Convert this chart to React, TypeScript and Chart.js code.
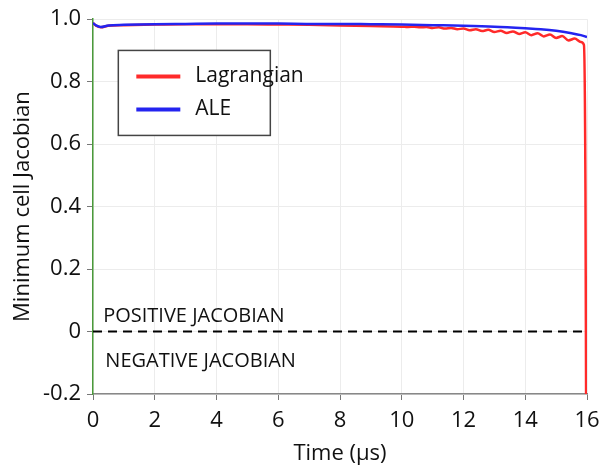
import React, { useEffect, useRef } from "react";
import { Chart, registerables } from "chart.js";

Chart.register(...registerables);

const aleTime = [0, 0.1, 0.25, 0.5, 1, 2, 3, 4, 5, 6, 7, 8, 9, 10, 11, 12, 13, 14, 14.5, 15, 15.5, 15.8, 16];
const aleValues = [0.988, 0.98, 0.975, 0.98, 0.982, 0.984, 0.985, 0.986, 0.986, 0.986, 0.985, 0.985, 0.984, 0.983, 0.981, 0.979, 0.976, 0.971, 0.968, 0.963, 0.955, 0.949, 0.943];

const lagTime = [0, 0.1, 0.25, 0.5, 1, 2, 3, 4, 5, 6, 7, 8, 9, 10,
  10.2, 10.4, 10.6, 10.8, 11.0, 11.2, 11.4, 11.6, 11.8, 12.0, 12.2, 12.4, 12.6, 12.8, 13.0,
  13.2, 13.4, 13.6, 13.8, 14.0, 14.2, 14.4, 14.6, 14.8, 15.0, 15.2, 15.4, 15.6, 15.8, 15.9, 15.95, 15.97];
const lagValues = [0.988, 0.979, 0.974, 0.979, 0.981, 0.983, 0.984, 0.984, 0.984, 0.983, 0.982, 0.98, 0.978, 0.976,
  0.975, 0.976, 0.974, 0.975, 0.972, 0.974, 0.970, 0.972, 0.968, 0.970, 0.965, 0.968, 0.962, 0.966, 0.959,
  0.963, 0.956, 0.961, 0.953, 0.958, 0.949, 0.955, 0.945, 0.951, 0.940, 0.946, 0.932, 0.938, 0.927, 0.918, 0.45, -0.2];

const zeroTime = [0, 16];
const zeroValues = [0, 0];

const xTicks = [0, 2, 4, 6, 8, 10, 12, 14, 16];
const yTicks = [-0.2, 0, 0.2, 0.4, 0.6, 0.8, 1.0];

const legendLabels = ["Lagrangian", "ALE"];
const regionLabels = ["POSITIVE JACOBIAN", "NEGATIVE JACOBIAN"];

const RED = "#ff2a2a";
const BLUE = "#2424f0";
const FONT = "'Open Sans', sans-serif";

const toXY = (t: number[], v: number[]) => t.map((x, i) => ({ x, y: v[i] }));

export default function App() {
  const ref = useRef<HTMLCanvasElement | null>(null);

  useEffect(() => {
    if (!ref.current) return;

    const overlay = {
      id: "overlay",
      afterDraw(chart: any) {
        const ctx = chart.ctx;
        const xs = chart.scales.x;
        const ys = chart.scales.y;
        ctx.save();
        ctx.fillStyle = "#111";
        ctx.font = `20px ${FONT}`;
        ctx.textBaseline = "alphabetic";
        ctx.textAlign = "left";
        const y0 = ys.getPixelForValue(0);
        ctx.fillText(regionLabels[0], xs.getPixelForValue(0.33), y0 - 10);
        ctx.fillText(regionLabels[1], xs.getPixelForValue(0.4), y0 + 35);
        const bx = xs.getPixelForValue(0.82);
        const by = ys.getPixelForValue(0.9);
        const bw = 152;
        const bh = 85;
        ctx.fillStyle = "#fff";
        ctx.fillRect(bx, by, bw, bh);
        ctx.strokeStyle = "#444";
        ctx.lineWidth = 1.5;
        ctx.strokeRect(bx, by, bw, bh);
        const colors = [RED, BLUE];
        ctx.font = `21px ${FONT}`;
        ctx.textBaseline = "middle";
        legendLabels.forEach((lab, i) => {
          const ly = by + 26 + i * 33;
          ctx.strokeStyle = colors[i];
          ctx.lineWidth = 4;
          ctx.beginPath();
          ctx.moveTo(bx + 18, ly);
          ctx.lineTo(bx + 62, ly);
          ctx.stroke();
          ctx.fillStyle = "#111";
          ctx.fillText(lab, bx + 77, ly);
        });
        ctx.restore();
      },
    };

    const chart = new Chart(ref.current, {
      type: "line",
      data: {
        datasets: [
          {
            label: "zero",
            data: toXY(zeroTime, zeroValues),
            borderColor: "#000",
            borderWidth: 2,
            borderDash: [9, 6],
            pointRadius: 0,
            order: 3,
          },
          {
            label: legendLabels[0],
            data: toXY(lagTime, lagValues),
            borderColor: RED,
            borderWidth: 2.5,
            pointRadius: 0,
            cubicInterpolationMode: "monotone",
            order: 2,
          },
          {
            label: legendLabels[1],
            data: toXY(aleTime, aleValues),
            borderColor: BLUE,
            borderWidth: 2.5,
            pointRadius: 0,
            cubicInterpolationMode: "monotone",
            order: 1,
          },
        ],
      },
      options: {
        animation: false,
        responsive: true,
        maintainAspectRatio: false,
        layout: { padding: { top: 16, right: 24, left: 0, bottom: 0 } },
        plugins: { legend: { display: false }, tooltip: { enabled: false } },
        scales: {
          x: {
            type: "linear",
            min: 0,
            max: 16,
            afterBuildTicks: (s: any) => {
              s.ticks = xTicks.map((v) => ({ value: v }));
            },
            afterFit: (s: any) => {
              s.height = 73;
            },
            grid: { color: "#ececec", tickColor: "#777", tickLength: 6, lineWidth: 1 },
            border: { color: "#888", width: 1.5 },
            ticks: { color: "#111", font: { family: FONT, size: 22 }, padding: 8, maxRotation: 0 },
            title: { display: true, text: "Time (μs)", color: "#111", font: { family: FONT, size: 22 }, padding: { top: 0, bottom: 0 } },
          },
          y: {
            type: "linear",
            min: -0.2,
            max: 1.0,
            afterBuildTicks: (s: any) => {
              s.ticks = yTicks.map((v) => ({ value: v }));
            },
            afterFit: (s: any) => {
              s.width = 93;
            },
            grid: { color: "#ececec", tickColor: "#777", tickLength: 6, lineWidth: 1 },
            border: { color: "#4a9a3a", width: 1.5 },
            ticks: {
              color: "#111",
              font: { family: FONT, size: 22 },
              padding: 6,
              callback: (v: any) => (Math.abs(Number(v)) < 1e-9 ? "0" : Number(v).toFixed(1)),
            },
            title: { display: true, text: "Minimum cell Jacobian", color: "#111", font: { family: FONT, size: 22 }, padding: { top: 10, bottom: 0 } },
          },
        },
      },
      plugins: [overlay],
    });
    return () => chart.destroy();
  }, []);

  return (
    <div style={{ position: "fixed", left: 0, top: 0, width: 611, height: 467, background: "#fff" }}>
      <canvas ref={ref} />
    </div>
  );
}
